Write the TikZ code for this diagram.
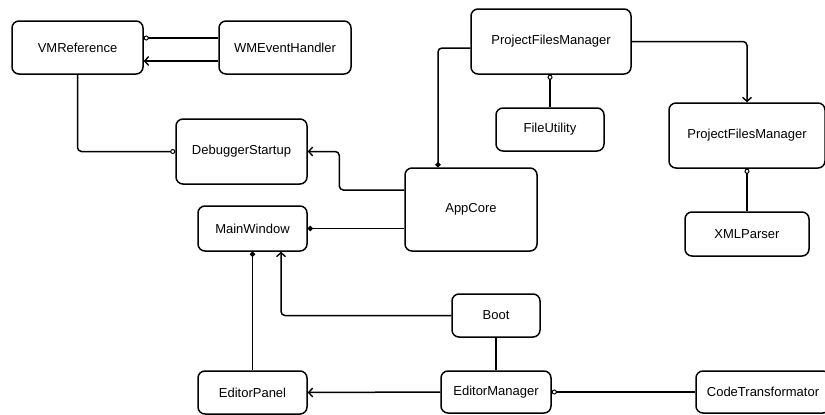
\documentclass[tikz,border=0pt]{standalone}
\usepackage{fontspec}
\setmainfont{Liberation Sans}
\usetikzlibrary{arrows.meta}

\begin{document}
\begin{tikzpicture}[x=1pt,y=-1pt]
\tikzstyle{every node}+=[inner sep=0pt,font=\fontsize{13}{15}\selectfont]
\tikzstyle{cls}=[draw=black,line width=1.5pt,rounded corners=7pt,fill=white]
\tikzstyle{link}=[black,line width=1.5pt,rounded corners=4pt]
\tikzstyle{oarrow}=[link,-{Straight Barb[length=4pt,width=9pt,line width=1.4pt]}]
\tikzstyle{odot}=[link,-{Circle[open,length=5pt,line width=1pt]}]
\tikzstyle{fdot}=[link,-{Circle[length=5pt]}]
\useasboundingbox (0,0) rectangle (825,415);
\node [cls,minimum width=131pt,minimum height=53pt] (vmref) at (77.5,47.5) {VMReference};
\node [cls,minimum width=132pt,minimum height=53pt] (wmev) at (285,47.5) {WMEventHandler};
\node [cls,minimum width=131pt,minimum height=65pt] (dbg) at (241.5,151.5) {DebuggerStartup};
\node [cls,minimum width=160pt,minimum height=65pt] (pfm) at (551,41.5) {ProjectFilesManager};
\node [cls,minimum width=108pt,minimum height=43pt] (futil) at (550,129.5) {FileUtility};
\node [cls,minimum width=156pt,minimum height=65pt] (pfmx) at (747,135.5) {ProjectFilesManager};
\node [cls,minimum width=124pt,minimum height=44pt] (xml) at (747,234) {XMLParser};
\node [cls,minimum width=132pt,minimum height=83pt] (core) at (471,209.5) {AppCore};
\node [cls,minimum width=109pt,minimum height=45pt] (mwin) at (252.5,228.5) {MainWindow};
\node [cls,minimum width=109pt,minimum height=43pt] (epanel) at (252.5,392.5) {EditorPanel};
\node [cls,minimum width=88pt,minimum height=43pt] (boot) at (496,315.5) {Boot};
\node [cls,minimum width=110pt,minimum height=42pt] (emgr) at (496,392) {EditorManager};
\node [cls,minimum width=134pt,minimum height=42pt] (ctrans) at (763,392) {CodeTransformator};
\draw [odot] ([yshift=9.5pt]wmev.west) -- ([yshift=9.5pt]vmref.east);
\draw [oarrow] ([yshift=-13.5pt]wmev.west) -- ([yshift=-13.5pt]vmref.east);
\draw [odot] (vmref.south) |- (dbg.west);
\draw [oarrow] ([yshift=19.5pt]core.west) -- ++(-65,0) |- (dbg.east);
\draw [fdot] ([yshift=-6.5pt]pfm.west) -| ([xshift=-33pt]core.north);
\draw [odot] (futil.north) -- (futil.north |- pfm.south);
\draw [oarrow] (pfm.east) -| (pfmx.north);
\draw [odot] (xml.north) -- (xml.north |- pfmx.south);
\draw [fdot] (core.west |- mwin.east) -- (mwin.east);
\draw [fdot] (epanel.north) -- (mwin.south);
\draw [oarrow] (boot.west) -| ([xshift=28.5pt]mwin.south);
\draw [link] (boot.south) -- (emgr.north);
\draw [oarrow] (emgr.west) -- (epanel.east);
\draw [odot] (ctrans.west) -- (emgr.east);
\end{tikzpicture}
\end{document}
